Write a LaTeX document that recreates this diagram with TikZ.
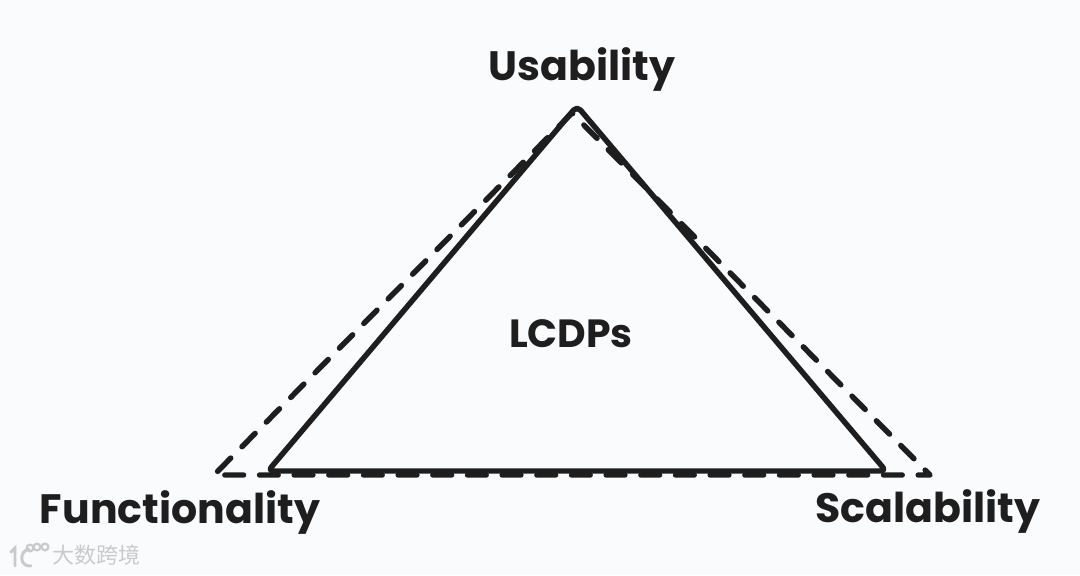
\documentclass[tikz,border=0pt]{standalone}
\usepackage{fontspec}
\setmainfont{Poppins}
\newfontfamily\cjk{Noto Sans CJK SC}
\definecolor{inkc}{HTML}{1E1E1E}
\definecolor{paperc}{HTML}{FAFBFD}
\definecolor{markc}{HTML}{C8CACC}
\tikzset{
  solidedge/.style={line width=4.1pt,draw=inkc,line join=round,line cap=round,rounded corners=4pt},
  dashedge/.style={line width=4.1pt,draw=inkc,line cap=round,line join=round,dash pattern=on 14pt off 12pt},
  corner/.style={font=\fontsize{30.8}{34}\selectfont\bfseries,text=inkc,inner sep=0pt},
  markline/.style={line width=1.6pt,draw=markc,line cap=round}
}
\begin{document}
\begin{tikzpicture}[x=0.75pt,y=-0.75pt]
\useasboundingbox[fill=paperc] (0,0) rectangle (1080,575);
% corners of the two triangles
\coordinate (top) at (577,106);
\coordinate (left) at (268,471);
\coordinate (right) at (886,471);
\coordinate (dtop) at (572,113);
\coordinate (dleft) at (214,475);
\coordinate (dright) at (930,475);
\draw[solidedge] (top) -- (right) -- (left) -- cycle;
\draw[dashedge] (dtop) -- (dleft) -- (dright) -- cycle;
\node[corner] (usability) at (582,69) {Usability};
\node[corner] (functionality) at (180,512) {Functionality};
\node[corner] (scalability) at (928,511) {Scalability};
\node[corner,font=\fontsize{29.5}{34}\selectfont\bfseries] (lcdps) at (571,334) {LCDPs};
% watermark
\draw[markline,line width=2.2pt] (11,552) -- (15,548) -- (15,566);
\draw[markline,line width=2.2pt] (29,549) .. controls (19,551) and (19,567) .. (31,566);
\draw[markline] (30,548) circle (3.4);
\draw[markline] (37,547) circle (3.4);
\draw[markline] (45,547) circle (3.4);
\node[font=\cjk\fontsize{16.5}{20}\selectfont,text=markc,inner sep=0pt] (mark) at (96,555) {大数跨境};
\end{tikzpicture}
\end{document}
